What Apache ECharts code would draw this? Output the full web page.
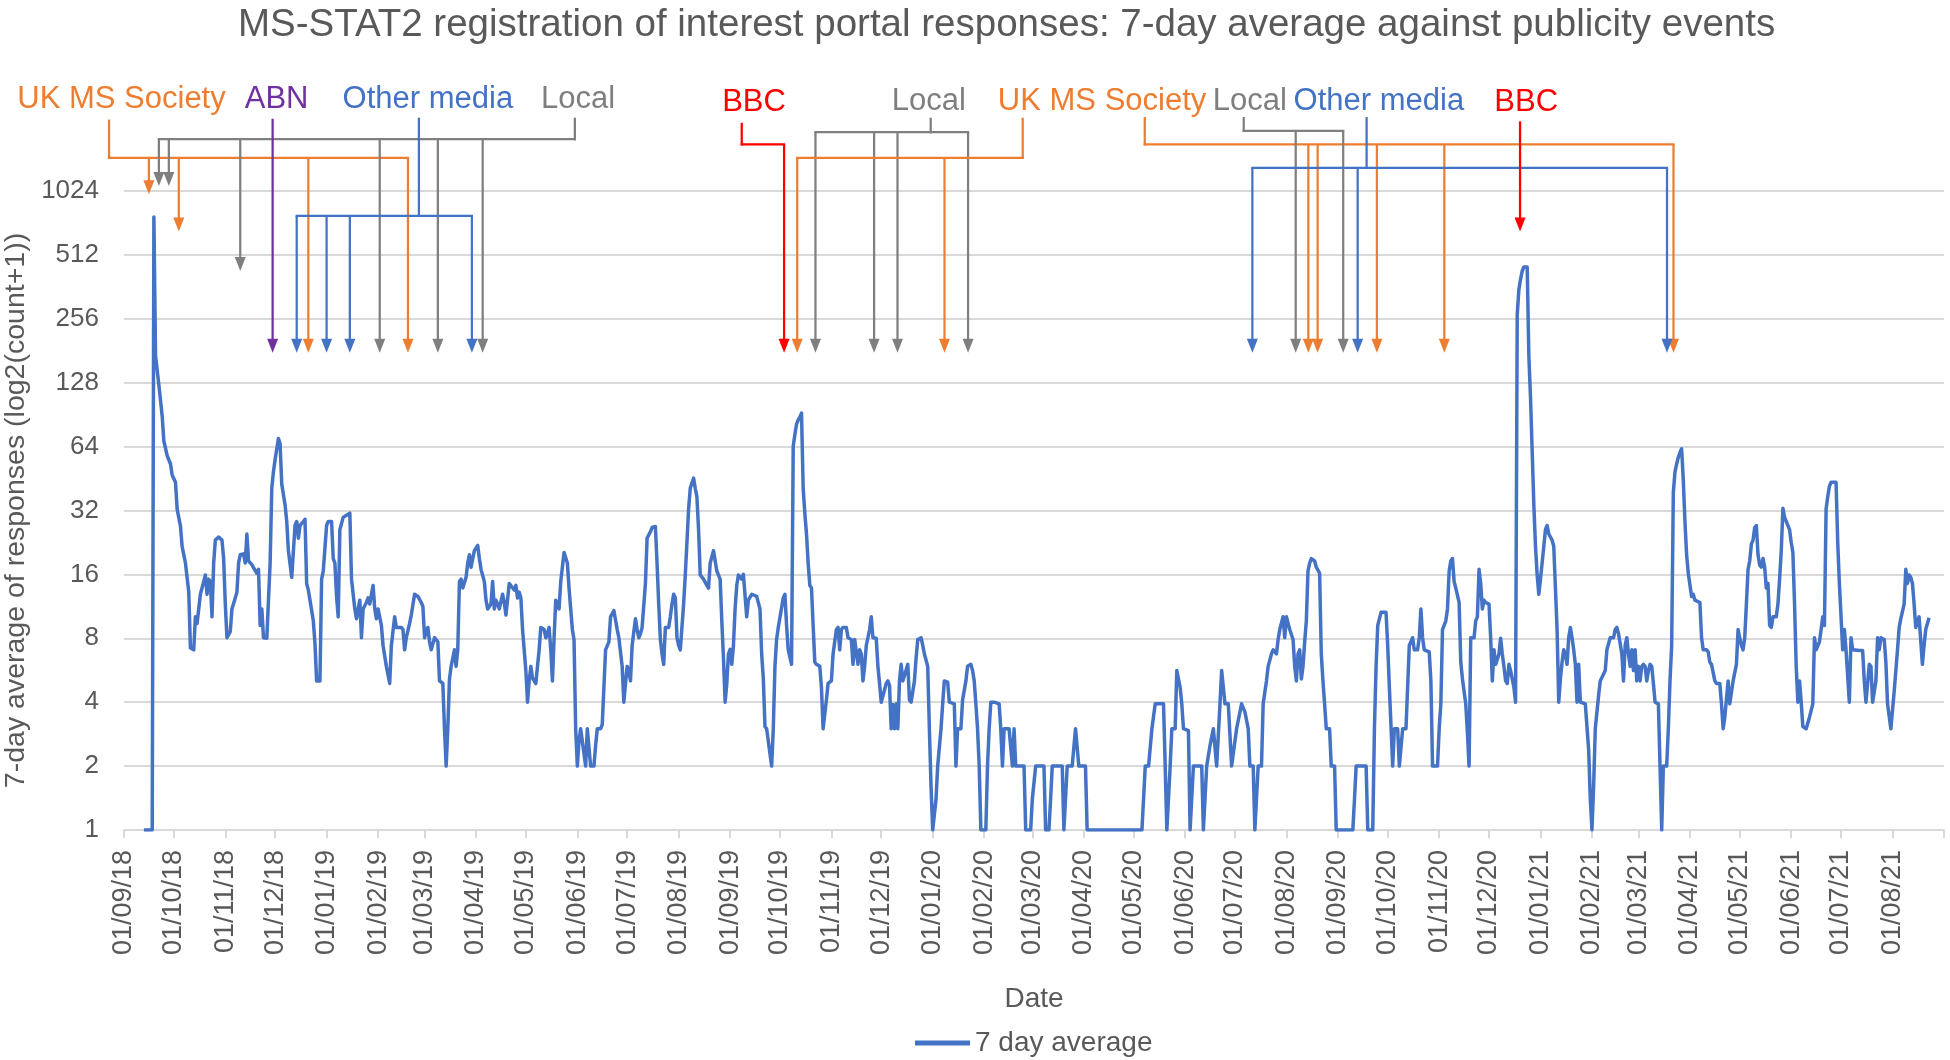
<!DOCTYPE html>
<html><head><meta charset="utf-8">
<script src="https://cdn.jsdelivr.net/npm/echarts@6/dist/echarts.min.js"></script>
<style>html,body{margin:0;padding:0;background:#fff}#chart{width:1950px;height:1060px}</style>
</head><body><div id="chart"></div>
<script>
const FONT = "'Liberation Sans', Arial, sans-serif";
const DAY = 86400000;
const T0 = new Date(2018, 8, 1).getTime();          // 01/09/18
const AXIS_END = new Date(2021, 8, 1).getTime();    // 01/09/21

const chartTitle = 'MS-STAT2 registration of interest portal responses: 7-day average against publicity events';
const seriesName = '7 day average';
const yAxisTitle = '7-day average of responses (log2(count+1))';
const xAxisTitle = 'Date';

// 7-day average readings: [days after 01/09/18, value]
const avgSeries = [
[12,1],[17,1],[18,772],[19,171],[21,125],[23,89],[24,68],[26,58],[28,53],[29,47],[31,43.5],[32,32.5],[34,27],[35,21.7],[37,18.1],[39,13.2],[40,7.2],[42,7.06],[43,10.1],[44,9.4],[45,9.2],[46,12.9],[48,14.8],[49,15.9],[50,12.9],[51,15.2],[52,14.8],[53,10.1],[54,18.1],[55,23.2],[57,24],[59,23.2],[60,19],[61,11.6],[62,8.05],[64,8.6],[65,11],[67,12.4],[68,13.2],[69,18.1],[70,19.8],[72,20],[73,18.1],[74,24.8],[75,18.5],[77,17.8],[78,17.2],[80,16.2],[81,16.9],[82,9.2],[83,11],[84,8.05],[86,8],[87,12.1],[88,18.1],[89,40.7],[90,48.7],[91,55.7],[93,69.8],[94,66],[95,42.6],[97,34],[98,28.4],[99,20.7],[101,15.5],[102,15.2],[103,27.2],[104,28.4],[105,23.7],[106,27.2],[108,28.4],[109,29.1],[110,14.5],[111,13.5],[112,12.1],[114,9.67],[115,7.55],[116,5.04],[118,5.04],[119,15.2],[120,16.6],[122,27.2],[123,28.4],[125,28.4],[126,19],[127,18.1],[128,12.6],[129,10.1],[130,26],[132,29.7],[134,30.4],[136,31.1],[137,15.2],[139,11],[140,9.9],[142,12.1],[143,8.05],[144,11],[146,11.8],
[147,12.4],[148,11.6],[150,14.2],[151,11],[152,9.9],[153,11],[155,9.2],[156,7.4],[158,5.9],[160,4.9],[161,7.4],[163,10.1],[164,9],[167,9],[168,8.8],[169,7.06],[170,8.05],[172,9.4],[173,10.3],[175,12.9],[177,12.6],[179,11.8],[180,11.3],[181,8.05],[182,8.6],[183,9],[184,7.7],[185,7.06],[187,8.05],[188,7.9],[189,7.7],[190,5.04],[192,4.9],[193,3],[194,2],[195,3],[196,5.15],[197,5.9],[199,7.06],[200,5.9],[201,7.06],[202,14.8],[203,15.2],[204,13.8],[206,15.5],[207,18.1],[208,19.8],[209,17.3],[210,19],[211,20.7],[213,21.9],[214,19],[215,16.9],[217,14.8],[218,12.1],[219,11],[221,11.6],[222,14.8],[223,11],[224,12.1],[226,11],[228,12.9],[229,11.8],[230,10.3],[231,10.1],[232,14.5],[233,14.2],[235,13.5],[236,14.2],[237,12.4],[238,13.2],[239,12.4],[240,8.8],[242,5.64],[243,4],[244,5.04],[245,5.9],[246,5.2],[248,4.9],[249,5.9],[250,7.06],[251,9],[253,8.8],[254,8.05],[255,8.4],[256,9],[257,7.06],[258,5.04],[259,8.05],[260,12.1],[262,11],[263,14.8],[265,20.3],[266,20.7],[267,18.1],[268,13.8],[269,11],[270,8.8],[271,7.9],[272,3],[273,2],[274,2.63],[275,3],[276,3],[278,2],[279,3],[280,3],[281,2],[282,2],
[283,2],[284,2.5],[285,3],[287,3],[288,3.14],[289,4.7],[290,7.06],[292,7.7],[293,10.1],[295,10.8],[296,11],[297,8.8],[298,8.05],[300,5.9],[301,4],[302,4.9],[303,5.9],[304,5.64],[305,5.04],[306,7.4],[308,9.9],[309,8.8],[310,8.05],[311,8.4],[312,9],[313,9],[314,14.5],[315,23.7],[317,25.4],[318,26.6],[320,26.9],[321,18.1],[322,11.6],[323,7.9],[324,6.75],[325,6.03],[326,9],[328,9],[329,10.1],[330,11.6],[331,12.9],[332,12.4],[333,8.05],[334,7.4],[335,7.06],[337,11.6],[338,15.9],[339,22.6],[340,32.5],[341,40.7],[343,45.5],[344,40.7],[345,37.2],[346,26],[347,15.9],[349,15.2],[351,14.2],[352,13.8],[353,18.1],[355,20.7],[356,18.5],[357,16.6],[359,15.2],[360,9.67],[361,6.45],[362,4],[363,4.9],[364,6.75],[365,7.1],[366,6.03],[367,7.4],[368,11],[369,14.2],[370,15.9],[371,15.9],[372,15.2],[373,16],[374,15.9],[375,10.1],[376,12.1],[378,12.9],[379,12.9],[381,12.6],[383,11],[384,6.75],[385,5.15],[386,3.07],[387,3],[388,2.94],[390,2],[391,3],[392,5.9],[393,7.9],[394,9],[395,9],[397,12.4],[398,12.9],[399,9.2],[400,7.06],[402,6.03],[403,64],[404,73],[405,81.6],[406,85.4],[407,88],[408,92],[409,40.7],[410,31],[411,24.8],[412,18.1],[413,14.2],[414,13.8],[415,9.2],[416,6.17],[417,6.03],[419,5.9],[420,4.7],[421,3],[423,4.1],[424,4.9],
[426,5.04],[427,6.75],[429,8.8],[430,9],[431,7.06],[432,8.8],[433,9],[435,9],[436,8.05],[437,8.05],[438,7.9],[439,6.03],[440,7.9],[441,8.05],[442,6.03],[443,7.06],[444,6.75],[445,5.04],[446,5.9],[447,7.4],[449,8.8],[450,10.1],[451,8.05],[453,8],[454,5.9],[455,4.9],[456,4],[457,4],[459,4.9],[460,5.04],[461,4.8],[462,3],[463,3.9],[464,3],[465,3.93],[466,3],[467,5.04],[468,6.03],[469,5.04],[470,5.04],[472,6.03],[473,4.1],[474,4],[476,5.04],[477,6.45],[478,7.9],[480,8.05],[481,7.4],[482,6.75],[484,5.9],[485,3],[486,1.6],[487,1],[488,1],[489,1.4],[490,2],[492,3],[493,3.93],[494,5.04],[496,4.97],[497,4],[498,4],[500,3.93],[501,2],[502,3],[503,3],[504,3],[505,4.1],[507,5.04],[508,5.9],[510,6.03],[511,5.64],[512,5.04],[513,3.93],[514,3],[515,2],[516,1],[517,1],[519,1],[520,2],[521,3],[522,4],[524,4],[525,4],[527,3.93],[528,3],[529,2],[530,3],[531,3],[533,3],[534,3],[535,2],[536,3],[537,2],[539,2],[542,2],[543,1],[544,1],[546,1],[547,1.4],[549,2],[551,2],[554,2],[555,1],[557,1],[558,1.4],[559,2],[562,2],
[565,2],[566,1],[567,1],[568,2],[571,2],[572,2],[573,3],[574,3],[575,2],[577,2],[579,2],[580,1],[613,1],[615,2],[617,2],[619,3],[621,3.93],[622,4],[626,3.93],[627,2],[628,1],[629,1],[630,2],[631,3],[633,3],[634,5.64],[636,4.7],[637,3.93],[638,3],[641,2.94],[642,1],[643,1],[644,2],[646,2],[649,2],[650,1],[651,1],[652,2],[653,2],[654,2.5],[656,3],[657,3],[658,2],[659,2],[660,3.93],[661,5.64],[662,5.64],[663,3.93],[665,3.93],[666,3.85],[667,2],[668,2],[670,3],[671,3],[673,3.93],[674,4],[675,3.6],[677,3],[678,2],[680,2],[681,1],[682,1],[683,2],[685,2],[686,3.93],[688,5.04],[689,5.9],[691,6.75],[692,7.06],[694,6.75],[695,7.9],[696,8.8],[698,10.1],[699,8.05],[700,10.1],
[701,9.9],[702,8.8],[704,7.9],[705,5.9],[706,5.04],[707,6.75],[708,7.06],[709,5.15],[710,5.9],[711,7.7],[712,9.67],[713,16.6],[714,18.1],[715,19],[717,18.5],[718,17.3],[720,16.2],[721,6.75],[722,5.04],[723,3.93],[724,3],[726,3],[727,2],[729,2],[730,1],[740,1],[741,1.4],[742,2],[746,2],[748,2],[749,1],[752,1],[753,3],[754,5.9],[755,9.2],[757,10.6],[758,10.8],[760,10.6],[761,7.4],[762,4.7],[764,2],[765,3],[767,3],[768,2],[770,3],[772,3],[773,3],[774,7.4],[776,8.05],[777,7.06],[779,7.06],[780,8.05],[781,11],[782,8.05],[783,7.06],[784,7],[786,6.9],[787,5.04],[788,2],[789,2],[791,2],[792,3],[793,3.93],[794,8.8],[796,9.67],[797,11],[798,16.6],[799,18.5],[800,19],[801,14.8],[802,13.8],[804,11.8],[805,6.17],[806,5.15],[808,3.93],[809,2.87],[810,2],[811,8.05],[813,8.05],[814,9.67],[815,10.1],[816,16.9],[817,14.5],[818,11],[819,12.1],[820,11.8],[822,11.6],[823,8.05],[824,5.04],[825,7.06],[826,6.03],[827,6],[828,6.75],[829,8],[830,6.75],[831,5.9],[832,5.04],[833,4.9],[834,6.03],
[835,5.64],[837,4.7],[838,4],[839,268],[840,352],[841,393],[842,430],[843,449],[845,449],[846,171],[847,109],[848,61],[849,34],[850,21.7],[851,15.9],[852,12.9],[853,15.2],[855,21.7],[856,26],[857,27.2],[858,24.8],[860,23.2],[861,21.7],[862,13.8],[863,8.8],[864,4],[865,5.15],[866,6.17],[867,7.06],[868,6.75],[869,6.03],[870,8.05],[871,9],[872,8.05],[873,7.06],[874,6.03],[875,4],[876,6.03],[877,4],[878,4],[880,3.93],[881,3.85],[882,2.4],[883,1.4],[884,1],[885,1.6],[886,3],[888,4.3],[889,5.04],[890,5.04],[892,5.64],[893,7.06],[894,7.06],[895,8.05],[896,7.9],[897,8.05],[898,8.8],[899,9],[900,8.4],[902,6.75],[903,5.04],[904,7.4],[905,8.05],[906,6.75],[907,5.9],[908,7.06],[909,5.64],[910,7.06],[911,5.04],[912,5.9],[913,5.04],[914,5.9],[915,6.03],[916,5.9],[917,5.04],[918,5.64],[919,6.03],[920,5.9],[921,4.9],[922,4],[924,3.93],[925,2],[926,1],[927,2],[929,2],[930,3],[931,5.04],[932,7.4],[933,38.9],[934,48.7],[935,53],[936,57],[937,60],[938,62.5],[939,44.5],[940,28.4],[941,19.8],[942,16.2],[943,15.9],[944,12.6],[945,12.9],[946,12.1],[947,12.1],[949,11.8],[950,8.05],[951,7.06],[953,7.06],[954,6.9],[955,6.17],[956,6.03],[957,6.03],[958,5.04],[959,4.9],[961,4.9],[962,3.93],[963,3],[964,3.4],[966,5.04],[967,3.93],[968,3.93],[969,5.04],[971,6.03],[972,8.8],[973,8.05],[974,7.4],[975,7.06],
[976,8.05],[977,11.6],[978,16.9],[979,18.5],[980,22.2],[981,23.2],[982,26.6],[983,27.2],[984,19.8],[985,17.7],[986,17.3],[987,19],[988,17.3],[989,13.8],[990,14.5],[991,9.2],[992,9],[993,10.1],[995,10.1],[996,11.6],[997,15.2],[998,20.7],[999,32.8],[1000,29.7],[1001,28.4],[1003,26],[1004,22.6],[1005,20.3],[1006,11.6],[1007,5.9],[1008,4],[1009,5.04],[1010,4],[1011,3.07],[1013,3],[1014,3],[1015,3.4],[1017,3.93],[1018,8.05],[1019,7.06],[1021,7.7],[1022,8.8],[1023,10.1],[1024,9.2],[1025,32.5],[1026,37.2],[1027,41.6],[1028,43.5],[1029,42.6],[1031,43.5],[1032,22.6],[1033,14.5],[1035,7.06],[1036,8.8],[1037,7.06],[1039,4],[1040,8.05],[1041,7.06],[1042,7.06],[1045,7],[1047,7],[1048,5.04],[1049,4],[1050,4.9],[1051,6.03],[1052,5.9],[1053,4],[1055,5.04],[1056,8.05],[1057,7.06],[1058,8.05],[1060,7.9],[1061,6.17],[1062,3.93],[1064,3],[1065,3],[1066,4.5],[1068,7.06],[1069,9],[1070,9.9],[1072,11.6],[1073,16.9],[1074,14.5],[1075,15.9],[1076,15.5],[1077,14.5],[1078,11.6],[1079,9],[1080,9],[1081,10.1],[1082,10.1],[1083,6.03],[1084,7.4],[1085,8.8],[1087,10]
];

// Publicity event sources and colours
const sourceColors = {
  'UK MS Society': '#ED7D31', 'ABN': '#7030A0', 'Other media': '#4472C4', 'Local': '#7F7F7F', 'BBC': '#FF0000'
};

// Event label texts: [text, days after 01/09/18, log2 level]
const eventLabels = [
  ['UK MS Society', -1.5, 11.43], ['ABN', 91.9, 11.43], ['Other media', 183, 11.43], ['Local', 273.5, 11.43],
  ['BBC', 379.4, 11.38], ['Local', 484.6, 11.40], ['UK MS Society', 589, 11.40], ['Local', 678, 11.40],
  ['Other media', 755.7, 11.40], ['BBC', 844.4, 11.38]
];

// Bracketed event arrows (days after 01/09/18; vertical levels in log2 units)
const eventBrackets = [
  {src: 'UK MS Society', stem: -9, top: 11.1, bar: 10.52, ev: [15, 33, 111, 171], tips: {15: 9.95, 33: 9.365}},
  {src: 'Local', stem: 271.5, top: 11.13, bar: 10.81, ev: [21, 27, 70, 154, 189, 216], tips: {21: 10.08, 27: 10.08, 70: 8.75}},
  {src: 'ABN', stem: 89.5, top: 11.13, bar: 11.13, ev: [89.5], tips: {}},
  {src: 'Other media', stem: 177.6, top: 11.13, bar: 9.61, ev: [104, 122, 136, 209.5], tips: {}},
  {src: 'BBC', stem: 372, top: 11.05, bar: 10.73, ev: [397.5], tips: {}},
  {src: 'Local', stem: 485.8, top: 11.13, bar: 10.92, ev: [416.4, 451.7, 465.8, 508.3], tips: {}},
  {src: 'UK MS Society', stem: 541.2, top: 11.13, bar: 10.52, ev: [405.4, 494.1], tips: {}},
  {src: 'UK MS Society', stem: 614.7, top: 11.14, bar: 10.73, ev: [713.2, 718.8, 754.5, 795.1, 933.1], tips: {}},
  {src: 'Local', stem: 674.3, top: 11.14, bar: 10.94, ev: [705.6, 734.2], tips: {}},
  {src: 'Other media', stem: 748.3, top: 11.14, bar: 10.36, ev: [679.5, 742.9, 929.2], tips: {}},
  {src: 'BBC', stem: 840.7, top: 11.09, bar: 11.09, ev: [840.7], tips: {840.7: 9.365}}
];
const DEFAULT_TIP = 7.47;

const toTime = d => T0 + d * DAY;

function renderAnnotations(params, api) {
  const children = [];
  const pt = (d, lvl) => api.coord([toTime(d), Math.pow(2, lvl)]);
  const HW = 5.5, HH = 14, LW = 2.25;
  eventBrackets.forEach(b => {
    const color = sourceColors[b.src];
    const ls = {stroke: color, lineWidth: LW, lineCap: 'square'};
    const s0 = pt(b.stem, b.top), s1 = pt(b.stem, b.bar);
    if (Math.abs(s0[1] - s1[1]) > 0.5) children.push({type: 'line', shape: {x1: s0[0], y1: s0[1], x2: s1[0], y2: s1[1]}, style: ls});
    const xs = b.ev.map(d => pt(d, b.bar)[0]).concat([s1[0]]);
    const xmin = Math.min.apply(null, xs), xmax = Math.max.apply(null, xs);
    if (xmax - xmin > 0.5) children.push({type: 'line', shape: {x1: xmin, y1: s1[1], x2: xmax, y2: s1[1]}, style: ls});
    b.ev.forEach(d => {
      const lvl = b.tips[d] !== undefined ? b.tips[d] : DEFAULT_TIP;
      const a = pt(d, b.bar), tip = pt(d, lvl);
      children.push({type: 'line', shape: {x1: a[0], y1: a[1], x2: tip[0], y2: tip[1] - HH + 2}, style: {stroke: color, lineWidth: LW, lineCap: 'butt'}});
      children.push({type: 'polygon', shape: {points: [[tip[0] - HW, tip[1] - HH], [tip[0] + HW, tip[1] - HH], [tip[0], tip[1]]]}, style: {fill: color}});
    });
  });
  eventLabels.forEach(([text, d, lvl]) => {
    const p = pt(d, lvl);
    children.push({type: 'text', x: p[0], y: p[1], style: {text, fill: sourceColors[text], font: '31px ' + FONT, align: 'center', verticalAlign: 'middle'}});
  });
  return {type: 'group', children};
}

// measure texts so that title and legend sit where they are in the reference
const ctx = document.createElement('canvas').getContext('2d');
ctx.font = '38.5px ' + FONT;
const titleW = ctx.measureText(chartTitle).width;
ctx.font = '28px ' + FONT;
const LEGEND_ICON_W = 55;
const legendW = LEGEND_ICON_W + 5 + ctx.measureText(seriesName).width;

const chart = echarts.init(document.getElementById('chart'), null, {renderer: 'canvas'});
chart.setOption({
  animation: false,
  backgroundColor: '#ffffff',
  title: {
    text: chartTitle, left: Math.round(1002 - titleW / 2), top: 1,
    textStyle: {fontFamily: FONT, fontSize: 38.5, fontWeight: 'normal', color: '#595959'}
  },
  grid: {left: 124, right: 6, top: 191, bottom: 230, containLabel: false, outerBoundsMode: 'none'},
  legend: {
    data: [seriesName], left: Math.round(1034 - legendW / 2 - 5), top: 1024, icon: 'rect',
    itemWidth: LEGEND_ICON_W, itemHeight: 5,
    textStyle: {fontFamily: FONT, fontSize: 28, color: '#595959'}
  },
  xAxis: {
    type: 'time', min: T0, max: AXIS_END, splitNumber: 36,
    minInterval: 28 * DAY, maxInterval: 31 * DAY,
    name: xAxisTitle, nameLocation: 'middle', nameGap: 155,
    nameTextStyle: {fontFamily: FONT, fontSize: 28, color: '#595959'},
    axisLine: {show: true, lineStyle: {color: '#d9d9d9', width: 2}},
    axisTick: {show: true, length: 8, lineStyle: {color: '#d9d9d9', width: 2}},
    splitLine: {show: false},
    axisLabel: {
      rotate: 90, margin: 20, fontFamily: FONT, fontSize: 27, color: '#595959', hideOverlap: false,
      formatter: v => {
        if (v >= AXIS_END - DAY) return '';
        const d = new Date(v);
        const p = n => (n < 10 ? '0' : '') + n;
        return p(d.getDate()) + '/' + p(d.getMonth() + 1) + '/' + p(d.getFullYear() % 100);
      }
    }
  },
  yAxis: {
    type: 'log', logBase: 2, min: 1, max: 1024, interval: 1,
    name: yAxisTitle, nameLocation: 'middle', nameGap: 92, nameRotate: 90,
    nameTextStyle: {fontFamily: FONT, fontSize: 28.5, color: '#595959'},
    axisLine: {show: false}, axisTick: {show: false},
    splitLine: {show: true, lineStyle: {color: '#d9d9d9', width: 2}},
    axisLabel: {fontFamily: FONT, fontSize: 26, color: '#595959', margin: 25, formatter: v => String(Math.round(v))}
  },
  series: [
    {
      name: seriesName, type: 'line', data: avgSeries.map(([d, v]) => [toTime(d), v]),
      showSymbol: false, symbol: 'none', z: 3,
      lineStyle: {color: '#4472C4', width: 3.5, join: 'round'}, itemStyle: {color: '#4472C4'}
    },
    {
      name: 'events', type: 'custom', coordinateSystem: 'cartesian2d', silent: true, z: 5, clip: false,
      data: [[T0, 1]], renderItem: renderAnnotations
    }
  ]
});
</script>
</body></html>
